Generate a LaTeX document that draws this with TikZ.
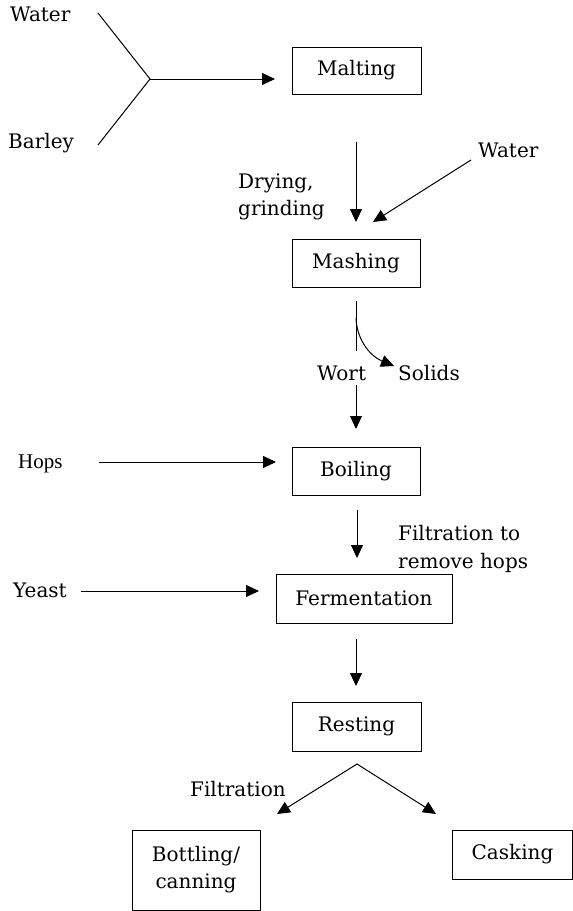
\documentclass[tikz,border=0pt]{standalone}
\usepackage{fontspec}
\setmainfont{DejaVu Serif}
\newfontfamily\timesfont{Liberation Serif}
\usetikzlibrary{arrows.meta}
\newcommand\lbl{\fontsize{20}{27}\selectfont}
\newcommand\hopsfont{\timesfont\fontsize{21}{24}\selectfont}
\tikzset{
  box/.style={draw, line width=1pt, inner sep=0pt, font=\lbl, align=center},
  lab/.style={inner sep=0pt, font=\lbl},
  arr/.style={line width=1pt, -{Triangle[length=13pt,width=12pt]}},
  ln/.style={line width=1pt},
}
\begin{document}
\begin{tikzpicture}[x=1pt,y=-1pt]
\useasboundingbox (0,0) rectangle (573,911);
% boxes
\node[box, minimum width=129pt, minimum height=47pt] (malt) at (356.5,70.5) {Malting};
\node[box, minimum width=128pt, minimum height=48pt] (mash) at (356,263) {Mashing};
\node[box, minimum width=128pt, minimum height=48pt] (boil) at (356,471) {Boiling};
\node[box, minimum width=176pt, minimum height=49pt] (ferm) at (364,598.5) {Fermentation};
\node[box, minimum width=129pt, minimum height=49pt] (rest) at (356.5,726.5) {Resting};
\node[box, minimum width=128pt, minimum height=80pt] (bott) at (196,870) {Bottling/\\canning};
\node[box, minimum width=120pt, minimum height=49pt] (cask) at (512.5,854.5) {Casking};
% labels
\node[lab, anchor=base west] (water1) at (10,21) {Water};
\node[lab, anchor=base west] (barley) at (8,148) {Barley};
\node[lab, anchor=base west] (water2) at (478,157) {Water};
\node[lab, anchor=base west] (dry) at (238,188) {Drying,};
\node[lab, anchor=base west] (grind) at (238,215) {grinding};
\node[lab, anchor=base west] (wort) at (317,380) {Wort};
\node[lab, anchor=base west] (solids) at (398,380) {Solids};
\node[lab, anchor=base west, font=\hopsfont] (hops) at (18,468) {Hops};
\node[lab, anchor=base west] (filt1) at (398,540) {Filtration to};
\node[lab, anchor=base west] (filt2) at (398,568) {remove hops};
\node[lab, anchor=base west] (yeast) at (13,597) {Yeast};
\node[lab, anchor=base west] (filt3) at (190,796) {Filtration};
% coordinates
\coordinate (w1) at (98,13);
\coordinate (b1) at (98,145);
\coordinate (J) at (150,79);
\coordinate (t1) at (275,79);
\coordinate (mt) at (356,142);
\coordinate (mb) at (356,222);
\coordinate (ws) at (471,160);
\coordinate (we) at (373,222);
\coordinate (s1) at (356,301);
\coordinate (s2) at (356,351);
\coordinate (c1) at (356,318);
\coordinate (c2) at (394,366);
\coordinate (wa) at (356,385);
\coordinate (wb) at (356,429);
\coordinate (h1) at (99,462);
\coordinate (h2) at (276,462);
\coordinate (f1) at (357,510);
\coordinate (f2) at (357,558);
\coordinate (y1) at (81,591);
\coordinate (y2) at (259,591);
\coordinate (r1) at (356,639);
\coordinate (r2) at (356,686);
\coordinate (ap) at (357,764);
\coordinate (lt) at (277,814);
\coordinate (rt) at (436,814);
% connectors
\draw[ln] (w1) -- (J) -- (b1);
\draw[arr] (J) -- (t1);
\draw[arr] (mt) -- (mb);
\draw[arr] (ws) -- (we);
\draw[ln] (s1) -- (s2);
\draw[arr] (c1) .. controls (357,342) and (372,357) .. (c2);
\draw[arr] (wa) -- (wb);
\draw[arr] (h1) -- (h2);
\draw[arr] (f1) -- (f2);
\draw[arr] (y1) -- (y2);
\draw[arr] (r1) -- (r2);
\draw[arr] (ap) -- (lt);
\draw[arr] (ap) -- (rt);
\end{tikzpicture}
\end{document}
